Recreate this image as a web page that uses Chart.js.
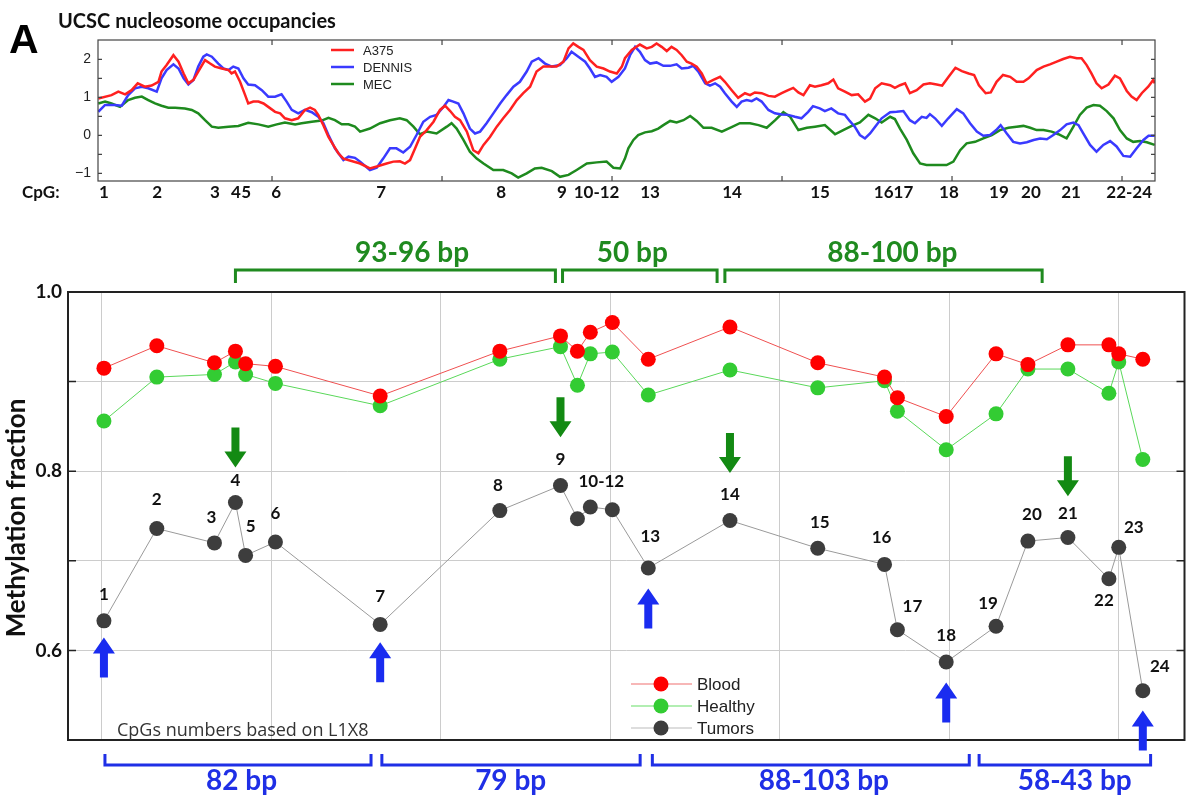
<!DOCTYPE html>
<html>
<head>
<meta charset="utf-8">
<title>L1 methylation and nucleosome occupancy</title>
<script src="https://cdn.jsdelivr.net/npm/chart.js@4.4.0/dist/chart.umd.min.js"></script>
<style>
    html, body { margin: 0; padding: 0; background: #fff; }
    #wrap { position: relative; width: 1192px; height: 806px; overflow: hidden; }
    #wrap canvas { position: absolute; left: 0; top: 0; }
</style>
</head>
<body>
<div id="wrap">
    <canvas id="methChart" width="1192" height="806" style="width:1192px;height:806px"></canvas>
    <canvas id="nucChart" width="1192" height="210" style="width:1192px;height:210px"></canvas>
</div>
<script>
// CpG positions (bp along the L1 fragment) and labels
const cpgNames = ['1','2','3','4','5','6','7','8','9','10','11','12','13','14','15','16','17','18','19','20','21','22','23','24'];
const cpgPos = [0.6, 16.2, 33.2, 39.4, 42.4, 51.2, 82.1, 117.4, 135.3, 140.3, 144.1, 150.6,
                161.2, 185.3, 211.2, 230.9, 234.7, 249.1, 263.8, 273.2, 285.0, 297.1, 300.0, 307.1];

// methylation fraction per CpG
const blood   = [0.915, 0.940, 0.921, 0.934, 0.920, 0.917, 0.884, 0.934, 0.951, 0.934, 0.955, 0.966,
                 0.925, 0.961, 0.921, 0.905, 0.882, 0.861, 0.931, 0.919, 0.941, 0.941, 0.931, 0.925];
const healthy = [0.856, 0.905, 0.908, 0.922, 0.908, 0.898, 0.873, 0.925, 0.939, 0.896, 0.931, 0.933,
                 0.885, 0.913, 0.893, 0.901, 0.867, 0.824, 0.864, 0.914, 0.914, 0.887, 0.922, 0.813];
const tumors  = [0.633, 0.736, 0.720, 0.765, 0.706, 0.721, 0.629, 0.756, 0.784, 0.747, 0.760, 0.757,
                 0.692, 0.745, 0.714, 0.696, 0.623, 0.587, 0.627, 0.722, 0.726, 0.680, 0.715, 0.555];

// occupancy axis ticks
const nucTicks = [-1, -0.5, 0, 0.5, 1, 1.5, 2];

// UCSC nucleosome occupancy tracks, [bp, occupancy]
const a375 = [
    [-1.1,0.97],[2.8,1.06],[4.8,1.15],[6.8,1.08],[8.7,1.19],[10.5,1.37],[12.6,1.28],[14.6,1.31],[16.6,1.41],[17.5,1.68],
    [19.0,1.85],[21.0,2.11],[22.5,1.94],[24.0,1.63],[25.4,1.37],[26.9,1.46],[28.3,1.68],[30.3,1.98],[31.8,1.89],[33.2,1.81],
    [35.2,1.76],[37.2,1.72],[38.1,1.63],[39.1,1.68],[40.6,1.41],[42.1,1.06],[43.0,0.84],[44.5,0.89],[46.0,0.89],[47.5,0.84],
    [48.9,0.75],[50.9,0.62],[52.4,0.58],[53.8,0.45],[55.8,0.40],[57.7,0.45],[59.7,0.67],[61.2,0.73],[62.6,0.67],[63.6,0.54],
    [65.1,0.27],[66.6,-0.04],[68.0,-0.25],[69.5,-0.47],[71.0,-0.61],
    [75.9,-0.74],[78.8,-0.87],[80.8,-0.82],[83.7,-0.74],[85.7,-0.69],[87.6,-0.68],[89.1,-0.74],[90.6,-0.65],[92.1,-0.34],[93.5,-0.04],
    [95.5,0.14],[97.5,0.36],[99.4,0.67],[100.9,0.78],[102.4,0.64],[103.8,0.49],[105.3,0.40],[107.3,0.10],[109.2,-0.39],[110.7,-0.47],
    [112.2,-0.25],[114.1,-0.04],[116.1,0.23],[118.0,0.45],[120.0,0.67],[122.0,0.93],[123.9,1.11],[125.9,1.28],[127.8,1.68],[129.8,1.81],
    [131.8,1.81],[133.7,1.81],[135.7,1.94],[137.2,2.29],[138.6,2.42],[140.1,2.33],[141.6,2.25],[143.5,1.98],[145.5,1.81],[147.5,1.76],
    [149.4,1.68],[151.4,1.63],[152.9,1.81],
    [153.8,2.03],[155.8,2.25],[158.2,2.39],[160.2,2.29],[161.7,2.33],[163.1,2.42],[164.6,2.33],[166.1,2.22],[167.5,2.33],[169.0,2.25],
    [170.5,2.11],[172.0,1.94],[173.4,1.89],[174.9,1.81],[176.4,1.63],[177.8,1.37],[179.8,1.46],[181.8,1.54],[183.2,1.41],[185.2,1.19],
    [187.1,0.99],[189.1,1.11],[190.6,1.06],[192.0,1.13],[194.0,1.11],[196.0,1.04],[197.9,1.02],[199.9,1.11],[201.8,1.19],[203.3,1.25],
    [204.8,1.13],[206.3,1.06],[208.2,1.32],[209.7,1.28],[211.6,1.32],[213.6,1.37],[215.1,1.47],[216.5,1.24],[218.5,1.15],[220.5,1.06],
    [222.4,1.08],[224.4,0.89],[225.9,0.97],[227.4,1.24],[229.3,1.37],
    [231.8,1.32],[233.2,1.25],[234.7,1.32],[236.2,1.37],[237.6,1.11],[239.6,1.19],[241.6,1.34],[243.5,1.37],[245.5,1.34],[247.1,1.31],
    [249.0,1.54],[251.0,1.78],[252.9,1.69],[254.9,1.63],[256.5,1.59],[257.9,1.32],[259.9,1.11],[261.4,1.13],[263.1,1.41],[265.0,1.59],
    [267.1,1.54],[269.0,1.41],[271.0,1.41],[272.5,1.50],[274.9,1.72],[276.9,1.81],[278.8,1.87],[280.8,1.94],[282.7,2.01],[284.7,2.07],
    [286.7,2.03],[288.1,2.03],[289.6,1.85],[291.0,1.63],[292.5,1.37],[294.0,1.24],[296.0,1.34],[297.9,1.57],[299.4,1.50],[301.4,1.17],
    [302.8,1.02],[304.3,0.93],[305.8,1.11],[307.7,1.28],[309.2,1.46],[309.6,1.37]
];
const dennis = [
    [-1.1,0.62],[0.9,0.80],[3.8,0.80],[5.8,0.78],[7.7,1.06],[9.7,1.24],[11.7,1.28],[13.6,1.24],[16.1,1.15],[17.5,1.50],
    [19.0,1.72],[21.0,1.87],[22.5,1.76],[24.0,1.50],[25.4,1.34],[26.9,1.46],[28.3,1.81],[29.8,2.07],[30.8,2.13],[32.3,2.07],
    [34.2,1.89],[35.7,1.76],[37.2,1.72],[38.6,1.81],[40.1,1.76],[41.6,1.50],[43.0,1.34],[45.0,1.32],[47.0,1.19],[48.9,1.02],
    [50.9,1.02],[52.8,1.08],[54.3,0.89],[55.8,0.67],[57.7,0.58],[59.7,0.67],[61.7,0.61],[63.6,0.49],[65.1,0.32],[66.6,0.01],
    [68.5,-0.34],[71.0,-0.65],[72.5,-0.56],[74.4,-0.59],
    [75.9,-0.69],[78.8,-0.91],[80.8,-0.85],[82.7,-0.61],[84.7,-0.34],[86.6,-0.34],[88.6,-0.45],[90.6,-0.30],[92.5,0.01],[94.5,0.36],
    [96.5,0.49],[98.4,0.54],[100.4,0.75],[101.9,0.93],[103.3,0.89],[104.8,0.84],[106.3,0.58],[108.2,0.18],[109.7,0.05],[111.2,0.10],
    [113.1,0.32],[115.1,0.58],[117.1,0.84],[119.0,1.06],[121.0,1.28],[122.9,1.41],[124.9,1.68],[126.4,1.94],[128.4,2.03],[130.3,1.89],
    [132.3,1.81],[134.7,1.85],[136.7,2.03],[138.1,2.20],[140.1,2.07],[142.1,1.94],[143.5,1.76],[145.0,1.54],[146.5,1.59],[148.4,1.54],
    [149.9,1.41],[151.9,1.54],
    [153.8,1.76],[155.3,2.11],[156.8,2.33],[158.2,2.20],[159.7,1.98],[161.2,1.89],[163.1,1.92],[165.1,1.83],[167.1,1.83],[169.0,1.87],
    [170.5,1.76],[172.5,1.78],[173.9,1.83],[175.4,1.68],[177.4,1.37],[178.8,1.31],[180.3,1.37],[181.8,1.28],[183.2,1.11],[185.2,0.89],
    [186.7,0.75],[188.1,0.89],[189.6,0.93],[191.1,0.90],[192.5,0.97],[194.0,0.89],[196.0,0.67],[197.9,0.58],[199.9,0.55],[201.8,0.54],
    [203.8,0.49],[205.7,0.45],[207.7,0.62],[209.1,0.77],[211.1,0.71],[212.6,0.64],[214.5,0.71],[216.5,0.58],[218.5,0.54],[219.9,0.38],
    [221.4,0.23],[222.9,0.01],[224.4,-0.08],[225.9,0.05],[227.4,0.23],[229.3,0.45],
    [231.8,0.61],[233.7,0.62],[235.7,0.64],[237.6,0.40],[239.1,0.32],[241.1,0.49],[242.5,0.46],[243.5,0.56],[245.0,0.45],[247.0,0.25],
    [248.9,0.45],[251.4,0.69],[253.3,0.58],[255.3,0.32],[257.3,0.10],[259.2,-0.01],[261.2,0.01],[263.0,0.14],[264.3,0.27],[266.1,0.05],
    [268.0,-0.17],[270.0,-0.21],[272.0,-0.18],[274.0,-0.12],[275.9,-0.08],[277.9,-0.10],[279.8,0.01],[281.8,0.14],[283.7,0.29],[285.7,0.34],
    [287.2,0.27],[288.6,0.05],[290.6,-0.25],[292.5,-0.43],[294.5,-0.25],[296.5,-0.15],[298.4,-0.29],[300.4,-0.54],[302.4,-0.56],[304.3,-0.34],
    [306.3,-0.12],[307.8,-0.01],[309.6,-0.01]
];
const mec = [
    [-1.1,0.84],[0.9,0.89],[2.8,0.84],[5.3,0.75],[7.7,0.93],[9.7,0.99],[11.7,1.02],[13.6,0.93],[15.6,0.84],[17.5,0.78],
    [19.5,0.73],[21.5,0.73],[24.4,0.71],[26.4,0.67],[28.3,0.58],[30.3,0.40],[32.3,0.23],[34.2,0.20],[37.2,0.23],[40.1,0.25],
    [43.0,0.33],[46.0,0.29],[48.9,0.23],[51.4,0.29],[53.8,0.34],[56.8,0.29],[58.7,0.32],[61.7,0.36],[64.6,0.39],[66.6,0.46],
    [68.5,0.40],[70.5,0.29],[72.5,0.29],[74.4,0.23],
    [75.9,0.10],[78.8,0.18],[81.8,0.32],[84.7,0.40],[87.6,0.45],[89.6,0.40],[91.6,0.23],[93.5,0.03],[95.5,0.10],[98.4,0.05],
    [101.4,0.23],[102.8,0.32],[104.3,0.18],[106.3,-0.12],[108.2,-0.43],[110.2,-0.61],[112.2,-0.74],[115.1,-0.91],[118.0,-0.91],[120.5,-1.00],
    [122.4,-1.11],[124.9,-1.00],[127.3,-0.87],[129.3,-0.85],[132.3,-0.94],[134.7,-1.09],[137.2,-1.04],[139.6,-0.91],[142.6,-0.74],[145.5,-0.71],
    [148.4,-0.69],[150.4,-0.85],[152.4,-0.87],
    [153.8,-0.61],[154.8,-0.34],[156.3,-0.12],[157.7,0.01],[159.7,0.08],[161.7,0.11],[163.6,0.18],[165.1,0.27],[167.1,0.38],[169.0,0.34],
    [171.0,0.40],[173.0,0.51],[174.9,0.38],[176.9,0.20],[179.3,0.20],[182.3,0.10],[184.7,0.20],[187.6,0.32],[190.6,0.32],[193.1,0.27],
    [195.5,0.20],[198.0,0.40],[200.4,0.61],[202.4,0.49],[204.8,0.14],[207.3,0.20],[209.7,0.23],[212.6,0.27],[215.6,0.03],[218.0,0.14],
    [220.5,0.25],[222.9,0.34],[225.4,0.54],[227.4,0.45],[229.3,0.34],
    [231.8,0.49],[233.2,0.43],[234.7,0.18],[236.7,-0.12],[238.6,-0.47],[240.6,-0.74],[242.5,-0.78],[245.5,-0.78],[248.4,-0.78],[250.4,-0.69],
    [252.4,-0.39],[254.3,-0.21],[256.8,-0.17],[259.2,-0.08],[261.7,0.01],[264.1,0.14],[266.6,0.20],[269.0,0.23],[271.0,0.25],[273.0,0.20],
    [274.9,0.14],[276.9,0.14],[279.3,0.10],[281.3,0.03],[283.7,-0.08],[285.7,0.23],[287.6,0.54],[289.6,0.73],[291.6,0.80],[293.5,0.78],
    [295.5,0.64],[297.5,0.45],[299.4,0.14],[301.4,-0.08],[303.3,-0.17],[305.3,-0.15],[307.3,-0.18],[309.6,-0.25]
];

// CpG labels under the occupancy track: [text, index into cpgPos (or pair to center on)]
const topLabels = [['1',[0]],['2',[1]],['3',[2]],['4',[3]],['5',[4]],['6',[5]],['7',[6]],['8',[7]],['9',[8]],
                   ['10-12',[9,11]],['13',[12]],['14',[13]],['15',[14]],['18',[17]],['19',[18]],['20',[19]],['21',[20]],['22-24',[21,23]]];

// bracket annotations: [from bp, to bp, label, label bp]
const greenBrackets = [[39.4, 133.8, '93-96 bp', 91.5], [135.9, 181.5, '50 bp', 156.5], [183.8, 277.4, '88-100 bp', 233.2]];
const blueBrackets  = [[0.9, 79.4, '82 bp', 41.2], [82.6, 158.8, '79 bp', 120.6], [162.4, 255.9, '88-103 bp', 213], [258.8, 309.4, '58-43 bp', 287]];

// arrows: [cpg index, tip value]
const downArrows = [[3, 0.804], [8, 0.838], [13, 0.798], [20, 0.772]];
const upArrows   = [[0, 0.6145], [6, 0.609], [12, 0.669], [17, 0.5643], [23, 0.533]];

// label offsets (px) for the CpG numbers next to the tumor points
const labelOffsets = [[0,-26],[0,-29],[-3,-25],[0,-22],[5,-29],[0,-28],[0,-28],[-2,-25],[0,-26],null,[11,-26],null,
                      [2,-31],[0,-26],[2,-26],[-3,-27],[15,-23],[0,-27],[-8,-23],[4,-27],[0,-24],[-5,22],[15,-20],[17,-24]];

const GREEN = '#1f8a1f';
const BLUE = '#1f2fe6';

function toXY(pairs) {
    return pairs.map(p => ({ x: p[0], y: p[1] }));
}

function drawArrow(ctx, x, tipY, dir, color) {
    // dir 1 = pointing down, -1 = pointing up
    const len = 40, head = 16, shaftW = 8, headW = 22;
    const baseY = tipY - dir * len;
    const neckY = tipY - dir * head;
    ctx.fillStyle = color;
    ctx.beginPath();
    ctx.moveTo(x - shaftW / 2, baseY);
    ctx.lineTo(x + shaftW / 2, baseY);
    ctx.lineTo(x + shaftW / 2, neckY);
    ctx.lineTo(x + headW / 2, neckY);
    ctx.lineTo(x, tipY);
    ctx.lineTo(x - headW / 2, neckY);
    ctx.lineTo(x - shaftW / 2, neckY);
    ctx.closePath();
    ctx.fill();
}

function drawBracket(ctx, x1, x2, y, endY, color) {
    ctx.strokeStyle = color;
    ctx.lineWidth = 3;
    ctx.beginPath();
    ctx.moveTo(x1, endY);
    ctx.lineTo(x1, y);
    ctx.lineTo(x2, y);
    ctx.lineTo(x2, endY);
    ctx.stroke();
}

// ---------- methylation chart (bottom) ----------
const methDecor = {
    id: 'methDecor',
    afterDraw(chart) {
        const ctx = chart.ctx;
        const a = chart.chartArea;
        const xs = chart.scales.x, ys = chart.scales.y;
        ctx.save();

        // frame and inward ticks
        ctx.strokeStyle = '#222';
        ctx.lineWidth = 2;
        ctx.strokeRect(a.left, a.top, a.right - a.left, a.bottom - a.top);
        ctx.lineWidth = 1.5;
        [0.6, 0.7, 0.8, 0.9].forEach(v => {
            const y = ys.getPixelForValue(v);
            ctx.beginPath();
            ctx.moveTo(a.left, y); ctx.lineTo(a.left + 8, y);
            ctx.moveTo(a.right, y); ctx.lineTo(a.right - 8, y);
            ctx.stroke();
        });

        // axis title
        ctx.save();
        ctx.translate(17, (a.top + a.bottom) / 2 + 2);
        ctx.rotate(-Math.PI / 2);
        ctx.fillStyle = '#111';
        ctx.font = 'bold 26px Lato';
        ctx.textAlign = 'center';
        ctx.textBaseline = 'middle';
        ctx.fillText('Methylation fraction', 0, 0);
        ctx.restore();

        // brackets
        ctx.font = 'bold 28px Lato';
        ctx.textAlign = 'center';
        ctx.textBaseline = 'alphabetic';
        greenBrackets.forEach(b => {
            drawBracket(ctx, xs.getPixelForValue(b[0]), xs.getPixelForValue(b[1]), 270, 283, GREEN);
            ctx.fillStyle = GREEN;
            ctx.fillText(b[2], xs.getPixelForValue(b[3]), 262);
        });
        blueBrackets.forEach(b => {
            drawBracket(ctx, xs.getPixelForValue(b[0]), xs.getPixelForValue(b[1]), 765, 754, BLUE);
            ctx.fillStyle = BLUE;
            ctx.fillText(b[2], xs.getPixelForValue(b[3]), 790);
        });

        // arrows
        downArrows.forEach(d => drawArrow(ctx, xs.getPixelForValue(cpgPos[d[0]]), ys.getPixelForValue(d[1]), 1, '#138a13'));
        upArrows.forEach(d => drawArrow(ctx, xs.getPixelForValue(cpgPos[d[0]]), ys.getPixelForValue(d[1]), -1, '#1a2cf0'));

        // CpG numbers near tumor points
        ctx.fillStyle = '#111';
        ctx.font = 'bold 17px Lato';
        ctx.textBaseline = 'middle';
        cpgNames.forEach((name, i) => {
            const off = labelOffsets[i];
            if (!off) return;
            const text = i === 10 ? '10-12' : name;
            ctx.fillText(text, xs.getPixelForValue(cpgPos[i]) + off[0], ys.getPixelForValue(tumors[i]) + off[1]);
        });

        // legend
        const items = [['Blood', '#f07070', '#ff0000'], ['Healthy', '#66dd66', '#33cc33'], ['Tumors', '#bbbbbb', '#3d3d3d']];
        ctx.font = '17px "Liberation Sans"';
        ctx.textAlign = 'left';
        items.forEach((it, i) => {
            const y = 684 + i * 22;
            ctx.strokeStyle = it[1];
            ctx.lineWidth = 1.2;
            ctx.beginPath(); ctx.moveTo(631, y); ctx.lineTo(692, y); ctx.stroke();
            ctx.fillStyle = it[2];
            ctx.beginPath(); ctx.arc(661, y, 7.5, 0, Math.PI * 2); ctx.fill();
            ctx.fillStyle = '#222';
            ctx.fillText(it[0], 697, y + 1);
        });

        // note
        ctx.font = '18px "Open Sans"';
        ctx.fillStyle = '#333';
        ctx.textBaseline = 'alphabetic';
        ctx.fillText('CpGs numbers based on L1X8', 117, 736);

        ctx.restore();
    }
};

new Chart(document.getElementById('methChart'), {
    type: 'line',
    data: {
        datasets: [{
            label: 'Blood',
            data: cpgPos.map((x, i) => ({ x: x, y: blood[i] })),
            borderColor: '#ef5050',
            borderWidth: 1,
            pointRadius: 7.5,
            pointBackgroundColor: '#ff0000',
            pointBorderWidth: 0
        }, {
            label: 'Healthy',
            data: cpgPos.map((x, i) => ({ x: x, y: healthy[i] })),
            borderColor: '#5ad85a',
            borderWidth: 1,
            pointRadius: 7.5,
            pointBackgroundColor: '#33cc33',
            pointBorderWidth: 0
        }, {
            label: 'Tumors',
            data: cpgPos.map((x, i) => ({ x: x, y: tumors[i] })),
            borderColor: '#9a9a9a',
            borderWidth: 1,
            pointRadius: 7.5,
            pointBackgroundColor: '#3d3d3d',
            pointBorderWidth: 0
        }]
    },
    options: {
        responsive: false,
        animation: false,
        events: [],
        layout: { padding: { left: 0, right: 4, top: 292, bottom: 0 } },
        plugins: { legend: { display: false }, tooltip: { enabled: false } },
        scales: {
            x: {
                type: 'linear',
                min: -10,
                max: 319.4,
                ticks: { display: false, stepSize: 50 },
                grid: { color: '#cccccc', drawTicks: false },
                border: { display: false },
                afterFit(s) { s.height = 66; }
            },
            y: {
                min: 0.5,
                max: 1.0,
                ticks: {
                    stepSize: 0.1,
                    autoSkip: false,
                    padding: 6,
                    color: '#111',
                    font: { family: 'Lato', weight: 'bold', size: 19 },
                    callback: v => {
                        const k = Math.round(v * 10);
                        return (k % 2 === 0 && k >= 6) ? (k / 10).toFixed(1) : '';
                    }
                },
                grid: { color: '#cccccc', drawTicks: false },
                border: { display: false },
                afterFit(s) { s.width = 68; }
            }
        }
    },
    plugins: [methDecor]
});

// ---------- nucleosome occupancy chart (top) ----------
const nucDecor = {
    id: 'nucDecor',
    afterDraw(chart) {
        const ctx = chart.ctx;
        const a = chart.chartArea;
        const xs = chart.scales.x, ys = chart.scales.y;
        ctx.save();

        ctx.strokeStyle = '#444';
        ctx.lineWidth = 1.2;
        ctx.strokeRect(a.left, a.top, a.right - a.left, a.bottom - a.top);
        nucTicks.forEach(v => {
            const y = ys.getPixelForValue(v);
            ctx.beginPath();
            ctx.moveTo(a.left, y); ctx.lineTo(a.left + 4, y);
            ctx.moveTo(a.right, y); ctx.lineTo(a.right - 4, y);
            ctx.stroke();
        });
        [50, 100, 150, 200, 250, 300].forEach(v => {
            const x = xs.getPixelForValue(v);
            ctx.beginPath();
            ctx.moveTo(x, a.top); ctx.lineTo(x, a.top + 5);
            ctx.moveTo(x, a.bottom); ctx.lineTo(x, a.bottom - 5);
            ctx.stroke();
        });

        // panel letter and title
        ctx.fillStyle = '#000';
        ctx.textAlign = 'left';
        ctx.textBaseline = 'alphabetic';
        ctx.font = 'bold 41px "Liberation Sans"';
        ctx.fillText('A', 9, 53);
        ctx.font = 'bold 20px Lato';
        ctx.fillStyle = '#111';
        ctx.fillText('UCSC nucleosome occupancies', 58, 28);

        // legend
        const items = [['A375', '#ff2020'], ['DENNIS', '#3a3aff'], ['MEC', '#1e8a1e']];
        ctx.font = '13px "Liberation Sans"';
        ctx.textBaseline = 'middle';
        items.forEach((it, i) => {
            const y = 50 + i * 17;
            ctx.strokeStyle = it[1];
            ctx.lineWidth = 2.5;
            ctx.beginPath(); ctx.moveTo(331, y); ctx.lineTo(354, y); ctx.stroke();
            ctx.fillStyle = '#222';
            ctx.fillText(it[0], 363, y + 1);
        });

        // CpG positions under the axis
        ctx.font = 'bold 17px Lato';
        ctx.fillStyle = '#111';
        ctx.textBaseline = 'alphabetic';
        ctx.fillText('CpG:', 22, 198);
        ctx.textAlign = 'center';
        topLabels.forEach(l => {
            const idx = l[1];
            const bp = idx.length > 1 ? (cpgPos[idx[0]] + cpgPos[idx[1]]) / 2 : cpgPos[idx[0]];
            ctx.fillText(l[0], xs.getPixelForValue(bp), 198);
        });
        const mid = xs.getPixelForValue((cpgPos[15] + cpgPos[16]) / 2);
        ctx.textAlign = 'right';
        ctx.fillText('16', mid, 198);
        ctx.textAlign = 'left';
        ctx.fillText('17', mid, 198);

        ctx.restore();
    }
};

new Chart(document.getElementById('nucChart'), {
    type: 'line',
    data: {
        datasets: [
            { label: 'A375', data: toXY(a375), borderColor: '#ff2020', borderWidth: 2.5, pointRadius: 0, tension: 0 },
            { label: 'DENNIS', data: toXY(dennis), borderColor: '#3a3aff', borderWidth: 2.5, pointRadius: 0, tension: 0 },
            { label: 'MEC', data: toXY(mec), borderColor: '#1e8a1e', borderWidth: 2.5, pointRadius: 0, tension: 0 }
        ]
    },
    options: {
        responsive: false,
        animation: false,
        events: [],
        layout: { padding: { left: 0, right: 37, top: 40, bottom: 0 } },
        plugins: { legend: { display: false }, tooltip: { enabled: false } },
        scales: {
            x: {
                type: 'linear',
                min: -1.18,
                max: 309.7,
                ticks: { display: false },
                grid: { display: false },
                border: { display: false },
                afterFit(s) { s.height = 29; }
            },
            y: {
                min: -1.2,
                max: 2.51,
                afterBuildTicks(s) { s.ticks = nucTicks.map(v => ({ value: v })); },
                ticks: {
                    autoSkip: false,
                    padding: 7,
                    color: '#222',
                    font: { family: 'Liberation Sans', size: 14 },
                    callback: v => {
                        if (Math.abs(v - Math.round(v)) > 1e-6) return '';
                        const r = Math.round(v);
                        return r < 0 ? '\u2212' + Math.abs(r) : String(r);
                    }
                },
                grid: { display: false, drawTicks: false },
                border: { display: false },
                afterFit(s) { s.width = 98; }
            }
        }
    },
    plugins: [nucDecor]
});
</script>
</body>
</html>
